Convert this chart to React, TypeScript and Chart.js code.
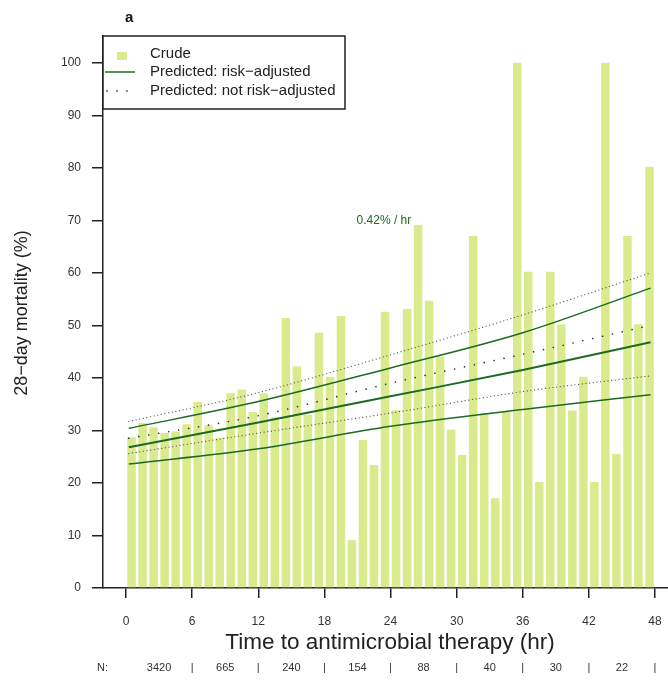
import React, { useEffect, useRef } from "react";
import { Chart, registerables } from "chart.js";

Chart.register(...registerables);

// Hour bins (start of each 1-hour interval)
const binStarts = [
  0, 1, 2, 3, 4, 5, 6, 7, 8, 9, 10, 11, 12, 13, 14, 15, 16, 17, 18, 19, 20, 21, 22, 23,
  24, 25, 26, 27, 28, 29, 30, 31, 32, 33, 34, 35, 36, 37, 38, 39, 40, 41, 42, 43, 44, 45, 46, 47,
];

// Crude 28-day mortality (%) per hour bin
const crude = [
  28.7, 31.4, 30.6, 29.5, 29.8, 31.2, 35.4, 31.0, 28.6, 37.1,
  37.8, 33.5, 37.1, 32.5, 51.4, 42.2, 33.0, 48.6, 40.2, 51.8,
  9.1, 28.2, 23.4, 52.6, 33.9, 53.1, 69.1, 54.7, 44.1, 30.2,
  25.3, 67.0, 33.3, 17.1, 33.5, 100, 60.2, 20.2, 60.2, 50.2,
  33.8, 40.2, 20.2, 100, 25.5, 67.0, 50.2, 80.2,
];

// Predicted curves, read at these hours
const curveHours = [0.25, 12, 24, 36, 47.6];
const adjMid = [26.8, 31.5, 36.5, 41.5, 46.8];
const adjUpper = [30.4, 35.5, 41.9, 48.6, 57.1];
const adjLower = [23.6, 26.5, 30.8, 34.0, 36.8];
const notAdjMid = [28.5, 32.8, 39.0, 44.5, 50.0];
const notAdjUpper = [31.7, 37.2, 44.4, 52.0, 60.0];
const notAdjLower = [25.6, 29.5, 33.3, 37.4, 40.4];

const xTicks = [0, 6, 12, 18, 24, 30, 36, 42, 48];
const yTicks = [0, 10, 20, 30, 40, 50, 60, 70, 80, 90, 100];

// Patient counts per 6-hour block
const nBlockMid = [3, 9, 15, 21, 27, 33, 39, 45];
const nCounts = ["3420", "665", "240", "154", "88", "40", "30", "22"];

const slopeLabel = "0.42% / hr";
const slopeAt = { x: 23.4, y: 70 };

const BAR_COLOR = "#d9eb8c";
const GREEN = "#1f6a22";
const GREY = "#555555";
const FONT = "'Liberation Sans', Arial, Helvetica, sans-serif";

const pts = (xs: number[], ys: number[]) => xs.map((x, i) => ({ x, y: ys[i] }));

const extras = {
  id: "extras",
  afterDatasetsDraw(chart: any) {
    const { ctx, chartArea } = chart;
    const xs = chart.scales.x;
    const ys = chart.scales.y;
    ctx.save();

    // Legend box
    const lx = chartArea.left;
    const ly = chartArea.top;
    const lw = 242;
    const lh = 73;
    ctx.fillStyle = "#ffffff";
    ctx.fillRect(lx, ly, lw, lh);
    ctx.strokeStyle = "#222";
    ctx.lineWidth = 1.5;
    ctx.strokeRect(lx, ly, lw, lh);

    ctx.font = `15px ${FONT}`;
    ctx.fillStyle = "#222";
    ctx.textBaseline = "middle";
    ctx.textAlign = "left";
    // Crude
    ctx.fillStyle = BAR_COLOR;
    ctx.fillRect(lx + 14, ly + 16, 10, 8);
    ctx.fillStyle = "#222";
    ctx.fillText("Crude", lx + 47, ly + 18);
    // risk-adjusted
    ctx.strokeStyle = GREEN;
    ctx.lineWidth = 1.5;
    ctx.beginPath();
    ctx.moveTo(lx + 2, ly + 36);
    ctx.lineTo(lx + 32, ly + 36);
    ctx.stroke();
    ctx.fillText("Predicted: risk\u2212adjusted", lx + 47, ly + 36);
    // not risk-adjusted
    ctx.fillStyle = GREY;
    [4, 14, 24].forEach((dx) => {
      ctx.beginPath();
      ctx.arc(lx + dx, ly + 55, 0.9, 0, Math.PI * 2);
      ctx.fill();
    });
    ctx.fillStyle = "#222";
    ctx.fillText("Predicted: not risk\u2212adjusted", lx + 47, ly + 55);

    // slope annotation
    ctx.fillStyle = GREEN;
    ctx.font = `12px ${FONT}`;
    ctx.textAlign = "center";
    ctx.fillText(slopeLabel, xs.getPixelForValue(slopeAt.x), ys.getPixelForValue(slopeAt.y));

    // panel letter
    ctx.fillStyle = "#111";
    ctx.font = `bold 15px ${FONT}`;
    ctx.textAlign = "left";
    ctx.fillText("a", xs.getPixelForValue(0) - 1, 18);

    // axis titles
    ctx.fillStyle = "#222";
    ctx.font = `22.5px ${FONT}`;
    ctx.textAlign = "center";
    ctx.fillText("Time to antimicrobial therapy (hr)", 390, 643);

    ctx.save();
    ctx.translate(22, 313);
    ctx.rotate(-Math.PI / 2);
    ctx.font = `18px ${FONT}`;
    ctx.fillText("28\u2212day mortality (%)", 0, 0);
    ctx.restore();

    // N row
    ctx.font = `11px ${FONT}`;
    ctx.fillStyle = "#333";
    ctx.textAlign = "left";
    ctx.fillText("N:", 97, 668);
    ctx.textAlign = "center";
    nBlockMid.forEach((h, i) => {
      ctx.fillText(nCounts[i], xs.getPixelForValue(h), 668);
      ctx.fillText("|", xs.getPixelForValue(h + 3), 668);
    });

    ctx.restore();
  },
};

export default function App() {
  const ref = useRef<HTMLCanvasElement | null>(null);

  useEffect(() => {
    if (!ref.current) return;
    const lineDs = (label: string, ys: number[], color: string, width: number, dash: number[]) => ({
      type: "line" as const,
      label,
      data: pts(curveHours, ys),
      borderColor: color,
      borderWidth: width,
      borderDash: dash,
      borderCapStyle: dash.length ? ("round" as const) : ("butt" as const),
      pointRadius: 0,
      fill: false,
      cubicInterpolationMode: "monotone" as const,
      order: 0,
    });

    const chart = new Chart(ref.current, {
      type: "bar",
      data: {
        datasets: [
          lineDs("adj", adjMid, GREEN, 2, []),
          lineDs("adjU", adjUpper, GREEN, 1.5, []),
          lineDs("adjL", adjLower, GREEN, 1.5, []),
          lineDs("nadj", notAdjMid, "#333", 1.6, [0.1, 10]),
          lineDs("nadjU", notAdjUpper, GREY, 1.2, [0.1, 3.6]),
          lineDs("nadjL", notAdjLower, GREY, 1.2, [0.1, 3.6]),
          {
            type: "bar" as const,
            label: "Crude",
            data: binStarts.map((h, i) => ({ x: h + 0.5, y: crude[i] })),
            backgroundColor: BAR_COLOR,
            borderWidth: 0,
            categoryPercentage: 1,
            barPercentage: 0.77,
            order: 10,
          },
        ] as any,
      },
      options: {
        responsive: false,
        animation: false,
        devicePixelRatio: 1,
        layout: { padding: { left: 0, right: 0, top: 36, bottom: 0 } },
        plugins: { legend: { display: false }, tooltip: { enabled: false } },
        scales: {
          x: {
            type: "linear",
            offset: false,
            min: -2.09,
            max: 49.18,
            afterBuildTicks: (s: any) => {
              s.ticks = xTicks.map((v) => ({ value: v }));
            },
            afterFit: (s: any) => {
              s.height = 92;
              s.paddingLeft = 0;
              s.paddingRight = 0;
            },
            grid: {
              offset: false,
              drawOnChartArea: false,
              drawTicks: true,
              tickLength: 10,
              color: "#222",
              lineWidth: 1.5,
            },
            border: { display: true, color: "#222", width: 1.5 },
            ticks: {
              padding: 16,
              autoSkip: false,
              maxRotation: 0,
              color: "#333",
              font: { family: FONT, size: 12 },
            },
          },
          y: {
            min: 0,
            max: 105.1,
            afterBuildTicks: (s: any) => {
              s.ticks = yTicks.map((v) => ({ value: v }));
            },
            afterFit: (s: any) => {
              s.width = 103;
              s.paddingTop = 0;
              s.paddingBottom = 0;
            },
            grid: { drawOnChartArea: false, drawTicks: true, tickLength: 11, color: "#222", lineWidth: 1.5 },
            border: { display: true, color: "#222", width: 1.5 },
            ticks: {
              padding: 11,
              color: "#333",
              font: { family: FONT, size: 12 },
            },
          },
        },
      } as any,
      plugins: [extras],
    });
    return () => chart.destroy();
  }, []);

  return (
    <div style={{ position: "absolute", left: 0, top: 0, width: 668, height: 680, background: "#fff" }}>
      <canvas ref={ref} width={668} height={680} />
    </div>
  );
}
